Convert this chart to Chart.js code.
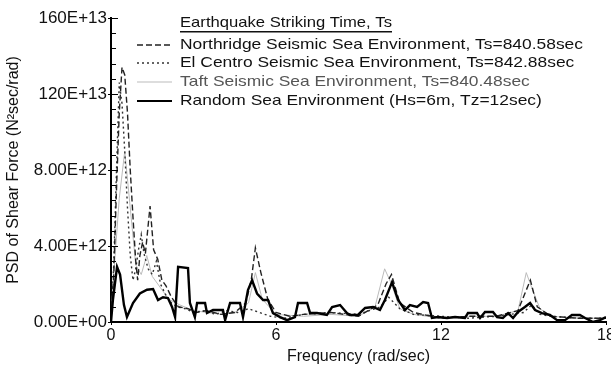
<!DOCTYPE html>
<html><head><meta charset="utf-8">
<script src="https://cdn.jsdelivr.net/npm/chart.js@4.4.0/dist/chart.umd.min.js"></script>
<style>html,body{margin:0;padding:0;background:#fff;}#wrap{width:611px;height:369px;position:relative;}</style>
</head><body><div id="wrap"><canvas id="c" width="611" height="369"></canvas></div>
<script>
// ---------- data (PSD values in units of 1e12 N^2 sec/rad) ----------
const yTickLabels = ['0.00E+00','4.00E+12','8.00E+12','120E+13','160E+13'];
const xTickValues = [0, 6, 12, 18];
const legendTitle = 'Earthquake Striking Time, Ts';
const seriesLabels = [
  'Northridge Seismic Sea Environment, Ts=840.58sec',
  'El Centro Seismic Sea Environment, Ts=842.88sec',
  'Taft Seismic Sea Environment, Ts=840.48sec',
  'Random Sea Environment (Hs=6m, Tz=12sec)'
];
const xTitle = 'Frequency (rad/sec)';
const yTitle = 'PSD of Shear Force (N\u00B2sec/rad)';

const northFreq = [0,0.1,0.2,0.3,0.4,0.5,0.6,0.7,0.8,0.9,0.97,1.05,1.15,1.25,1.42,1.55,1.7,1.85,2.0,2.2,2.45,2.8,3.1,3.5,4.0,4.5,4.9,5.1,5.25,5.45,5.7,6.0,6.5,7,8,9,9.7,10.0,10.2,10.5,11,12,13,14,14.8,15.05,15.25,15.5,16,17,18];
const northPsd  = [0.3,2.5,7,11,13.4,13.0,11,8,5.5,3.2,2.2,3.5,4.2,3.6,6.1,3.8,3.3,2.2,1.9,1.3,0.8,0.7,0.5,0.6,0.4,0.5,1.0,2.2,3.9,2.6,1.2,0.5,0.3,0.4,0.5,0.3,0.9,2.0,2.5,1.0,0.5,0.2,0.3,0.3,0.6,1.5,2.2,0.8,0.3,0.2,0.2];

const elcFreq = [0,0.1,0.2,0.3,0.4,0.5,0.6,0.7,0.8,0.9,1.0,1.1,1.2,1.35,1.5,1.65,1.8,2.0,2.2,2.4,2.7,3.0,3.4,3.8,4.2,4.6,5.0,5.4,5.8,6.3,7,8,9,9.8,10.1,10.5,11,12,13,14,15,15.3,15.6,16,17,18];
const elcPsd  = [0.2,3,8,12.6,11.5,9,6,3.5,2.2,2.8,3.8,4.6,3.6,2.8,2.5,3.2,2.0,1.4,1.0,0.8,0.7,0.5,0.6,0.4,0.6,0.5,0.7,0.5,0.3,0.2,0.4,0.5,0.4,0.8,1.3,0.7,0.4,0.3,0.2,0.3,0.5,0.9,0.4,0.3,0.2,0.2];

const taftFreq = [0,0.15,0.3,0.5,0.7,0.9,1.1,1.3,1.5,1.8,2.1,2.5,3,3.5,4,4.5,5.0,5.25,5.5,6,7,8,9,9.6,9.95,10.2,10.5,11,12,13,14,14.8,15.1,15.3,15.6,16,17,18];
const taftPsd  = [0.3,3.5,6.5,9,6,3,2.5,3.5,2.4,1.8,1.2,0.9,0.6,0.5,0.4,0.5,1.0,2.6,1.2,0.4,0.3,0.4,0.3,0.8,2.8,2.0,0.7,0.4,0.2,0.3,0.3,0.6,2.6,1.8,0.7,0.3,0.2,0.2];

const randFreq = [0,0.07,0.22,0.33,0.47,0.58,0.8,1.05,1.31,1.53,1.71,1.89,2.07,2.22,2.33,2.44,2.8,2.87,3.05,3.13,3.42,3.49,3.71,4.07,4.15,4.33,4.69,4.8,4.98,5.13,5.31,5.53,5.71,5.89,6.15,6.4,6.69,6.8,7.13,7.24,7.49,7.85,8.04,8.33,8.58,8.69,8.98,9.24,9.53,9.78,9.96,10.22,10.44,10.69,10.87,11.13,11.35,11.53,11.67,11.89,12.22,12.51,12.87,12.98,13.31,13.42,13.6,13.89,14.04,14.25,14.44,14.62,14.8,15.05,15.24,15.42,15.67,15.96,16.22,16.51,16.76,17.05,17.24,17.53,17.78,18];
const randPsd  = [0,1.16,2.9,2.5,0.9,0.26,1.0,1.5,1.7,1.74,1.16,1.3,1.26,0.79,0.26,2.9,2.84,1.0,0.26,1.0,1.0,0.47,0.63,0.63,0.1,1.0,1.0,0.26,1.68,2.2,1.5,1.16,1.16,0.47,0.26,0.1,0.26,1.0,1.0,0.47,0.47,0.37,0.79,0.89,0.47,0.37,0.37,0.74,0.79,0.63,1.16,2.1,1.16,0.63,0.89,0.79,1.05,1.0,0.21,0.26,0.21,0.26,0.21,0.47,0.47,0.21,0.53,0.53,0.26,0.21,0.47,0.21,0.53,0.79,1.0,0.63,0.47,0.37,0.1,0.1,0.37,0.37,0.21,0.0,0.1,0.26];

// ---------- chart ----------
const FONT = '"Liberation Sans", Arial, sans-serif';
function pts(fr, ps){ return fr.map((f,i)=>({x:f, y:ps[i]*1e12})); }

const minorTicks = {
  id:'minorTicks',
  afterDraw(chart){
    const ctx = chart.ctx, y = chart.scales.y, a = chart.chartArea;
    ctx.save(); ctx.strokeStyle='#000'; ctx.lineWidth=1;
    for(let v=0; v<=16.001; v+=0.8){
      const py = Math.round(y.getPixelForValue(v*1e12))+0.5;
      const major = Math.abs(v/4 - Math.round(v/4))<1e-6;
      ctx.beginPath(); ctx.moveTo(a.left, py); ctx.lineTo(a.left+(major?7:5), py); ctx.stroke();
    }
    ctx.restore();
  }
};

const insideLegend = {
  id:'insideLegend',
  afterDraw(chart){
    const ctx = chart.ctx;
    ctx.save();
    ctx.font = '15px ' + FONT;
    ctx.fillStyle = '#111';
    ctx.textBaseline = 'middle';
    const x0 = 180;
    const tw = ctx.measureText(legendTitle).width;
    const sxT = 212 / tw;
    ctx.save(); ctx.translate(x0, 23); ctx.scale(sxT,1); ctx.fillText(legendTitle,0,0); ctx.restore();
    ctx.fillRect(x0, 31, 212, 1.5);
    const nw = ctx.measureText(seriesLabels[0]).width;
    const sx = 403 / nw;
    const rowsY = [45, 63, 82, 101];
    const ds = chart.data.datasets;
    ds.forEach((d, i) => {
      const yy = rowsY[i];
      ctx.save();
      ctx.strokeStyle = d.borderColor; ctx.lineWidth = Math.min(d.borderWidth, 2);
      ctx.setLineDash(d.borderDash || []);
      ctx.beginPath(); ctx.moveTo(137, yy); ctx.lineTo(172, yy); ctx.stroke();
      ctx.restore();
      ctx.save(); ctx.fillStyle = d.legendText || '#111';
      ctx.translate(x0, yy); ctx.scale(sx,1); ctx.fillText(d.label,0,0); ctx.restore();
    });
    ctx.restore();
  }
};

new Chart(document.getElementById('c'), {
  type:'line',
  data:{
    datasets:[
      {label:seriesLabels[0], data:pts(northFreq,northPsd), borderColor:'#222', borderWidth:1.4, borderDash:[6,3], order:2},
      {label:seriesLabels[1], data:pts(elcFreq,elcPsd), borderColor:'#333', borderWidth:1.4, borderDash:[2,3], order:3},
      {label:seriesLabels[2], data:pts(taftFreq,taftPsd), borderColor:'#bbb', borderWidth:1, order:4, legendText:'#555'},
      {label:seriesLabels[3], data:pts(randFreq,randPsd), borderColor:'#000', borderWidth:2.4, order:1}
    ]
  },
  options:{
    responsive:false, animation:false, devicePixelRatio:1,
    layout:{padding:{left:0, top:18, right:5, bottom:0}},
    elements:{point:{radius:0}, line:{tension:0, fill:false}},
    plugins:{legend:{display:false}, tooltip:{enabled:false}},
    scales:{
      x:{
        type:'linear', min:0, max:18,
        afterBuildTicks(s){ s.ticks = xTickValues.map(v=>({value:v})); },
        ticks:{autoSkip:false, maxRotation:0, padding:1, color:'#111', font:{family:FONT, size:16}, callback:v=>String(v)},
        grid:{drawOnChartArea:false, drawTicks:true, tickLength:3, color:'#000'},
        border:{display:true, color:'#000', width:2},
        title:{display:true, text:xTitle, color:'#111', font:{family:FONT, size:16}, padding:{top:0,bottom:3}},
        afterFit(s){ s.height = 47; s.paddingLeft = 0; s.paddingRight = 0; }
      },
      y:{
        type:'linear', min:0, max:1.6e13,
        afterBuildTicks(s){ s.ticks = yTickLabels.map((t,i)=>({value:i*4e12})); },
        ticks:{autoSkip:false, padding:1, color:'#111', font:{family:FONT, size:17}, callback:(v)=>yTickLabels[Math.round(v/4e12)]},
        grid:{drawOnChartArea:false, drawTicks:true, tickLength:3, color:'#000'},
        border:{display:true, color:'#000', width:2},
        title:{display:true, text:yTitle, color:'#111', font:{family:FONT, size:16}, padding:{top:4,bottom:0}},
        afterFit(s){ s.width = 111; s.paddingTop = 0; s.paddingBottom = 0; }
      }
    }
  },
  plugins:[minorTicks, insideLegend]
});
</script></body></html>
